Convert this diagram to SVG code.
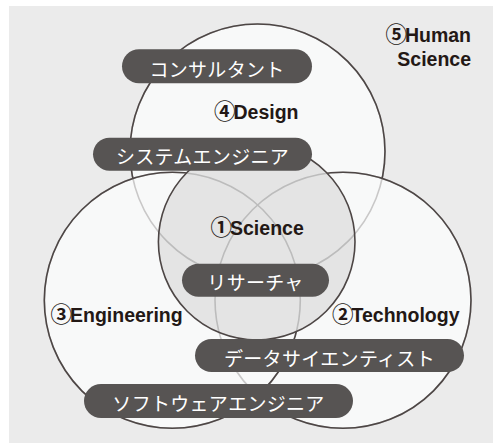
<svg xmlns="http://www.w3.org/2000/svg" width="493" height="443" viewBox="0 0 493 443">
<style>
.fillc{fill:#f8f9f9;stroke:none}
.faint{fill:none;stroke:#c9c8c8;stroke-width:1.6}
.faintS{fill:none;stroke:#bcbcbc;stroke-width:1.6}
.dark{fill:none;stroke:#4d4645;stroke-width:1.6}
.pill rect{fill:#575453}
.pill text{fill:#ffffff;font-family:"Noto Sans CJK JP",sans-serif;font-size:19px;letter-spacing:0.3px;text-anchor:middle}
.lbl{fill:#231815;font-family:"Liberation Sans","Noto Sans CJK JP",sans-serif;font-size:19.5px;font-weight:bold}
.num{font-family:"Noto Sans CJK JP",sans-serif;font-size:21.5px;font-weight:bold;letter-spacing:-2px}
</style>
<defs>
<circle id="cD" cx="257.5" cy="151.5" r="127.5"/>
<circle id="cE" cx="172.3" cy="300.3" r="128"/>
<circle id="cT" cx="343" cy="300.3" r="128"/>
<circle id="cS" cx="256.7" cy="241.7" r="98.3"/>
<mask id="mD" maskUnits="userSpaceOnUse" x="0" y="0" width="493" height="443">
<rect x="0" y="0" width="493" height="443" fill="#fff"/>
<use href="#cE" fill="#000"/>
<use href="#cT" fill="#000"/>
</mask>
<mask id="mT" maskUnits="userSpaceOnUse" x="0" y="0" width="493" height="443">
<rect x="0" y="0" width="493" height="443" fill="#fff"/>
<use href="#cE" fill="#000"/>
</mask>
<clipPath id="clipS"><circle cx="256.7" cy="241.7" r="98.3"/></clipPath>
</defs>
<rect x="9" y="6" width="484" height="437" fill="#ebebeb"/>
<g id="circle-fills">
<use href="#cD" class="fillc"/>
<use href="#cT" class="fillc"/>
<use href="#cE" class="fillc"/>
<use href="#cD" class="faint"/>
<use href="#cT" class="faint"/>
<use href="#cE" class="faint"/>
</g>
<g id="design"><use href="#cD" class="dark" mask="url(#mD)"/></g>
<g id="technology"><use href="#cT" class="dark" mask="url(#mT)"/></g>
<g id="engineering"><use href="#cE" class="dark"/></g>
<g id="science">
<use href="#cS" fill="#e4e4e4"/>
<g clip-path="url(#clipS)">
<use href="#cD" class="faintS"/>
<use href="#cT" class="faintS"/>
<use href="#cE" class="faintS"/>
</g>
<use href="#cS" class="dark"/>
</g>
<g id="labels">
<text id="lbl-human" class="lbl" x="471" y="42" text-anchor="end"><tspan class="num">⑤</tspan>Human</text>
<text id="lbl-human2" class="lbl" x="471" y="66" text-anchor="end">Science</text>
<text id="lbl-design" class="lbl" x="214" y="118.5"><tspan class="num">④</tspan>Design</text>
<text id="lbl-science" class="lbl" x="210.5" y="235"><tspan class="num">①</tspan>Science</text>
<text id="lbl-eng" class="lbl" x="50.5" y="321.5"><tspan class="num">③</tspan>Engineering</text>
<text id="lbl-tech" class="lbl" x="332" y="321.5"><tspan class="num">②</tspan>Technology</text>
</g>
<g id="pill-consultant" class="pill"><rect x="122" y="49.3" width="190" height="34" rx="17"/><text x="217" y="76.5">コンサルタント</text></g>
<g id="pill-systemengineer" class="pill"><rect x="93" y="137.7" width="219" height="33" rx="16.5"/><text x="202.5" y="164.2">システムエンジニア</text></g>
<g id="pill-research" class="pill"><rect x="182" y="263.7" width="147" height="33" rx="16.5"/><text x="255.5" y="290.2">リサーチャ</text></g>
<g id="pill-datascientist" class="pill"><rect x="195" y="339" width="269" height="33" rx="16.5"/><text x="329.5" y="365.5">データサイエンティスト</text></g>
<g id="pill-software" class="pill"><rect x="84" y="384" width="269" height="34" rx="17"/><text x="218.5" y="411">ソフトウェアエンジニア</text></g>
</svg>
